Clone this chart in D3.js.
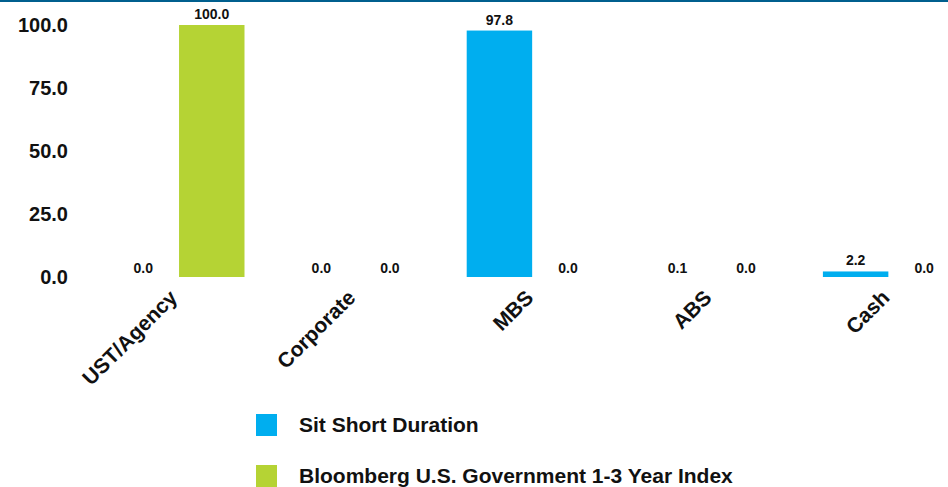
<!DOCTYPE html>
<html><head><meta charset="utf-8">
<script src="https://cdn.jsdelivr.net/npm/d3@7"></script>
<style>body{margin:0;background:#fff}svg{display:block;font-family:"Liberation Sans",Arial,sans-serif;font-weight:bold}</style>
</head><body><svg id="c" width="948" height="487"></svg>
<script>
const categories = ["UST/Agency","Corporate","MBS","ABS","Cash"];
const seriesNames = ["Sit Short Duration","Bloomberg U.S. Government 1-3 Year Index"];
const sitValues = [0.0, 0.0, 97.8, 0.1, 2.2];
const indexValues = [100.0, 0.0, 0.0, 0.0, 0.0];
const yTicks = [0, 25, 50, 75, 100];
const colors = ["#00AEEF", "#B5D334"];

const svg = d3.select("#c");
svg.append("rect").attr("x",0).attr("y",0).attr("width",948).attr("height",2).attr("fill","#005f8e");

const y = d3.scaleLinear().domain([0,100]).range([277,25]);
const x0 = d3.scaleBand().domain(categories).range([88.5,979]).padding(0);
const x1 = d3.scaleBand().domain(seriesNames).range([22,156]).paddingInner(0.045);

const yAxis = svg.append("g").attr("transform","translate(68,0)")
  .call(d3.axisLeft(y).tickValues(yTicks).tickFormat(d3.format(".1f")).tickSize(0).tickPadding(0));
yAxis.select(".domain").remove();
yAxis.selectAll("text").attr("font-size",20).attr("font-weight","bold").attr("fill","#111")
  .attr("font-family","Liberation Sans, Arial, sans-serif").attr("dy","0.3em");

const data = categories.map((c,i)=>({cat:c, vals:[sitValues[i], indexValues[i]]}));
const g = svg.append("g");
data.forEach(d=>{
  d.vals.forEach((v,j)=>{
    const bx = x0(d.cat)+x1(seriesNames[j]);
    const bw = x1.bandwidth();
    if (v>0.5) {
      g.append("rect").attr("x",bx).attr("y",y(v)).attr("width",bw).attr("height",y(0)-y(v)).attr("fill",colors[j]);
    }
    g.append("text").attr("x",bx+bw/2).attr("y",y(v)-(v>0.5?6:4)).attr("text-anchor","middle")
      .attr("font-size",14).attr("fill","#111").text(d3.format(".1f")(v));
  });
});

const xAxis = svg.append("g").attr("transform","translate(0,287)")
  .call(d3.axisBottom(x0).tickSize(0).tickPadding(0));
xAxis.select(".domain").remove();
xAxis.selectAll("text").attr("font-size",21).attr("font-weight","bold").attr("fill","#111")
  .attr("font-family","Liberation Sans, Arial, sans-serif")
  .attr("text-anchor","end").attr("x",0).attr("y",0).attr("dy",0)
  .attr("transform","translate(1,12) rotate(-45)");

const leg = svg.append("g");
seriesNames.forEach((s,i)=>{
  const ly = 414 + i*51;
  leg.append("rect").attr("x",256).attr("y",ly).attr("width",21).attr("height",22).attr("fill",colors[i]);
  leg.append("text").attr("x",299).attr("y",ly+11).attr("dy","0.35em").attr("font-size",21).attr("fill","#111").text(s);
});
</script></body></html>
